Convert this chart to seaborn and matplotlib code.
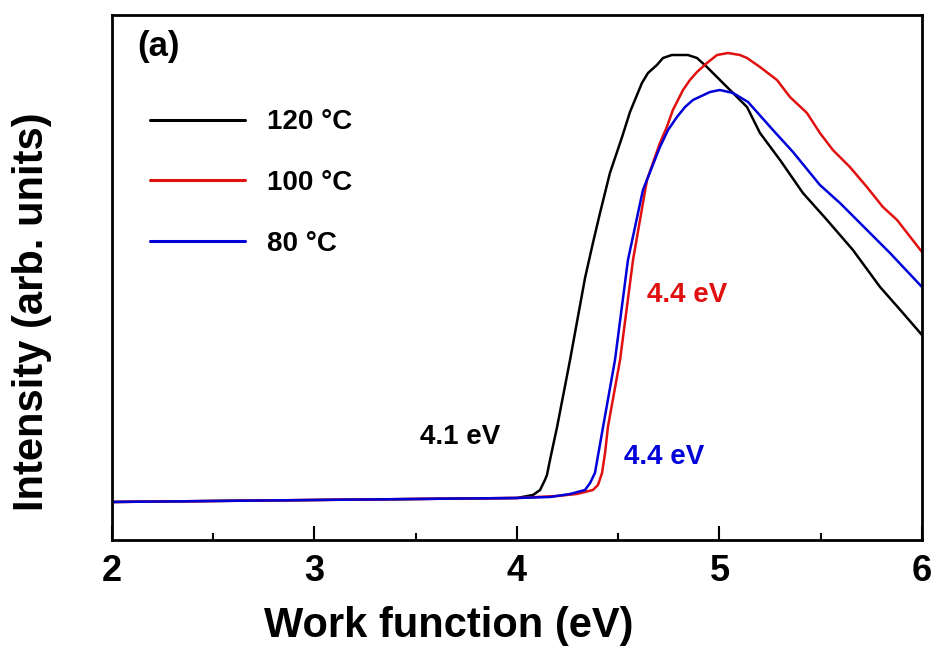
import matplotlib
matplotlib.use('Agg')
import matplotlib.pyplot as plt
from matplotlib.ticker import MultipleLocator
import seaborn as sns
import pandas as pd

# work function spectra (intensity in arb. units)
x_120 = [2.0, 3.0, 4.0, 4.079, 4.114, 4.138, 4.148, 4.163, 4.198, 4.262, 4.336, 4.375,
         4.41, 4.459, 4.519, 4.558, 4.617, 4.647, 4.691, 4.721, 4.765, 4.844, 4.889,
         4.938, 5.037, 5.136, 5.2, 5.299, 5.412, 5.531, 5.659, 5.793, 5.906, 6.0]
y_120 = [38, 40, 42, 45, 50, 60, 65, 80, 113, 180, 262, 297,
         327, 367, 403, 428, 457, 467, 475, 482, 485, 485, 482,
         473, 453, 433, 407, 380, 347, 320, 290, 253, 227, 205]

x_100 = [2.0, 3.0, 4.0, 4.2, 4.296, 4.375, 4.40, 4.42, 4.435, 4.449, 4.509, 4.573,
         4.642, 4.706, 4.74, 4.77, 4.82, 4.854, 4.889, 4.938, 4.988, 5.042, 5.101,
         5.136, 5.2, 5.284, 5.348, 5.432, 5.496, 5.56, 5.644, 5.728, 5.807, 5.877, 6.0]
y_100 = [38, 40, 42, 44, 46, 50, 55, 67, 87, 113, 180, 280,
         360, 397, 413, 430, 450, 460, 468, 477, 485, 487, 485,
         482, 473, 460, 443, 427, 407, 390, 373, 353, 333, 320, 288]

x_80 = [2.0, 3.0, 4.0, 4.163, 4.262, 4.336, 4.361, 4.385, 4.425, 4.484, 4.548, 4.622,
        4.667, 4.706, 4.746, 4.79, 4.830, 4.869, 4.953, 5.002, 5.067, 5.141, 5.264,
        5.363, 5.496, 5.595, 5.679, 5.842, 6.0]
y_80 = [38, 40, 42, 43, 46, 50, 57, 67, 113, 180, 280, 350,
        373, 393, 410, 423, 433, 440, 448, 450, 447, 438, 410,
        388, 355, 337, 320, 287, 253]

labels = ['120 °C', '100 °C', '80 °C']
colors = ['black', '#e01010', '#0000d8']

df = pd.concat([
    pd.DataFrame({'wf': x_120, 'intensity': y_120, 'temp': labels[0]}),
    pd.DataFrame({'wf': x_100, 'intensity': y_100, 'temp': labels[1]}),
    pd.DataFrame({'wf': x_80, 'intensity': y_80, 'temp': labels[2]}),
])

sns.set_style('ticks')
plt.rcParams['font.family'] = ['Liberation Sans', 'DejaVu Sans']
plt.rcParams['font.weight'] = 'bold'
plt.rcParams['text.color'] = 'black'
plt.rcParams['axes.labelcolor'] = 'black'
plt.rcParams['axes.edgecolor'] = 'black'
plt.rcParams['xtick.color'] = 'black'

fig = plt.figure(figsize=(9.31, 6.55), dpi=100)
ax = fig.add_axes([0.1203, 0.1756, 0.87, 0.8015])

sns.lineplot(data=df, x='wf', y='intensity', hue='temp', hue_order=labels,
             palette=colors, linewidth=1.8, sort=False, ax=ax)

ax.set_xlim(2, 6)
ax.set_ylim(0, 525)
ax.set_yticks([])
ax.xaxis.set_major_locator(MultipleLocator(1))
ax.xaxis.set_minor_locator(MultipleLocator(0.5))
ax.tick_params(axis='x', which='major', direction='in', length=10, width=1.5,
               labelsize=26, pad=10, top=False)
ax.tick_params(axis='x', which='minor', direction='in', length=5, width=1.5, top=False)
for lab in ax.get_xticklabels():
    lab.set_fontweight('bold')
for s in ax.spines.values():
    s.set_linewidth(2)
    s.set_visible(True)
    s.set_color('black')

ax.set_xlabel('Work function (eV)', fontsize=30, fontweight='bold')
ax.set_ylabel('Intensity (arb. units)', fontsize=30, fontweight='bold')
ax.xaxis.set_label_coords(0.416, -0.125)
ax.yaxis.set_label_coords(-0.074, 0.434)

leg = ax.legend(loc='upper left', bbox_to_anchor=(0.047, 0.82), frameon=False,
                fontsize=20, handlelength=3.4, handletextpad=0.8, labelspacing=1.25,
                borderpad=0, borderaxespad=0)
for t in leg.get_texts():
    t.set_fontweight('bold')
    t.set_color('black')
for h in leg.get_lines():
    h.set_linewidth(2.2)

ax.text(0.058, 0.94, '(a)', transform=ax.transAxes, fontsize=25, fontweight='bold',
        ha='center', va='center')
ax.text(3.72, 103, '4.1 eV', color='black', fontsize=20, fontweight='bold',
        ha='center', va='center')
ax.text(4.84, 245, '4.4 eV', color=colors[1], fontsize=20, fontweight='bold',
        ha='center', va='center')
ax.text(4.726, 83, '4.4 eV', color=colors[2], fontsize=20, fontweight='bold',
        ha='center', va='center')

plt.savefig('out.png', dpi=100)
